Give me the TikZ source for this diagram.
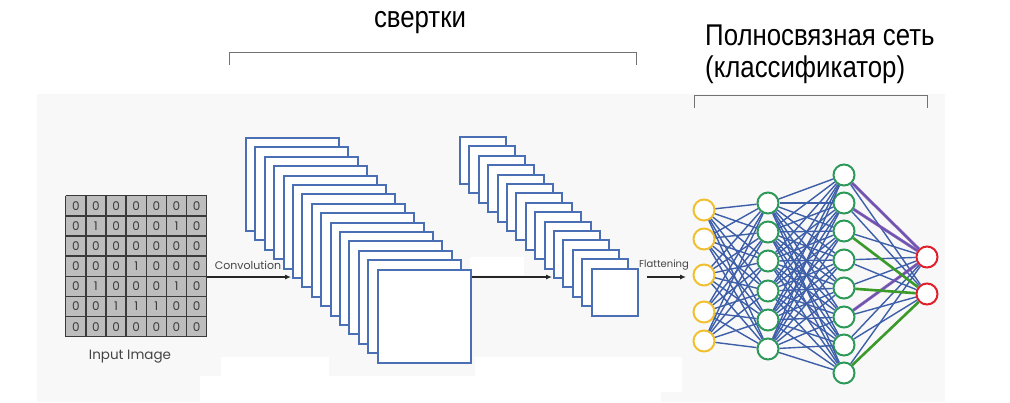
\documentclass[tikz,border=0pt]{standalone}
\usepackage{fontspec}
\setmainfont{Liberation Sans}
\newfontfamily\topfont[FakeStretch=0.86]{Liberation Sans}
\newfontfamily\smallfont{Poppins}
\usetikzlibrary{arrows.meta}
\definecolor{bgc}{HTML}{F8F8F8}
\definecolor{fmapc}{HTML}{4A6FB5}
\definecolor{edgec}{HTML}{3D5EA8}
\definecolor{yelc}{HTML}{F0C030}
\definecolor{grnc}{HTML}{2E9A5A}
\definecolor{redc}{HTML}{E0202A}
\definecolor{purc}{HTML}{7550B0}
\definecolor{gthick}{HTML}{3A9A2A}
\definecolor{cellc}{HTML}{BDBDBD}
\definecolor{gridc}{HTML}{3A3A3A}
\definecolor{labc}{HTML}{444444}
\tikzset{
  fmapbig/.style={draw=fmapc, line width=2pt, fill=white, minimum width=93pt, minimum height=93pt, inner sep=0pt, anchor=north west},
  fmapsmall/.style={draw=fmapc, line width=2pt, fill=white, minimum width=46pt, minimum height=47pt, inner sep=0pt, anchor=north west},
  neuron/.style={circle, fill=white, line width=2pt, minimum size=21pt, inner sep=0pt},
  edge/.style={draw=edgec, line width=1.4pt},
  purpedge/.style={draw=purc, line width=3pt, opacity=0.85},
  grnedge/.style={draw=gthick, line width=2.6pt},
  bracketline/.style={draw=black!55, line width=1pt},
  toptext/.style={font=\topfont\fontsize{30}{32}\selectfont, anchor=base, inner sep=0pt},
  smalllabel/.style={font=\smallfont\fontsize{11}{11}\selectfont, text=labc, inner sep=0pt},
  flowarrow/.style={draw=black!85, line width=1.1pt, -{Latex[length=6pt,width=5pt]}},
  digit/.style={font=\smallfont\fontsize{12}{12}\selectfont, text=gridc, inner sep=0pt}
}
\begin{document}
\begin{tikzpicture}[x=1pt,y=-1pt]
\useasboundingbox (0,0) rectangle (1010,402);
% background
\fill[bgc] (37,94) rectangle (945,402);
\fill[white] (200,402) -- (200,376) -- (221,376) -- (221,357) -- (329,357) -- (329,376) -- (475,376) -- (475,357) -- (682,357) -- (682,392) -- (661,392) -- (661,402) -- cycle;
\fill[white] (470,257) rectangle (524,275);
% top labels
\node[toptext] (tconv) at (420,27) {свертки};
\node[toptext, anchor=base west] (tfc1) at (705,45) {Полносвязная сеть};
\node[toptext, anchor=base west] (tfc2) at (705,77) {(классификатор)};
% brackets
\draw[bracketline] (229,65) -- (229,52) -- (636,52) -- (636,65);
\draw[bracketline] (694,108) -- (694,95) -- (927,95) -- (927,108);
% input grid
\node[fill=cellc, minimum width=141pt, minimum height=141pt, inner sep=0pt, anchor=north west] (grid) at (65.7,195.7) {};
\foreach \k in {0,...,7}{
  \draw[gridc, line width=1.5pt] (65.7+20.14*\k,195.7) -- (65.7+20.14*\k,336.7);
  \draw[gridc, line width=1.5pt] (65.7,195.7+20.14*\k) -- (206.7,195.7+20.14*\k);
}
\foreach \row [count=\i] in {{0,0,0,0,0,0,0},{0,1,0,0,0,1,0},{0,0,0,0,0,0,0},{0,0,0,1,0,0,0},{0,1,0,0,0,1,0},{0,0,1,1,1,0,0},{0,0,0,0,0,0,0}}{
  \foreach \v [count=\j] in \row {
    \node[digit] (d\i\j) at (65.7+20.14*\j-10.07,195.7+20.14*\i-10.07) {\v};
  }
}
\node[font=\smallfont\fontsize{13.5}{14}\selectfont, text=labc, inner sep=0pt] (inlab) at (130,357) {Input Image};
% big stack
\foreach \i in {0,...,14}{
  \node[fmapbig] (b\i) at (245+9.4*\i,137+9.4*\i) {};
}
% small stack
\foreach \i in {0,...,14}{
  \node[fmapsmall] (s\i) at (459+9.4*\i,136+9.4*\i) {};
}
% arrows
\coordinate (convend) at (291,277);
\coordinate (poolend) at (552,277);
\coordinate (flatstart) at (647,277);
\coordinate (flatend) at (686,277);
\draw[flowarrow] (grid.east |- convend) -- (convend);
\draw[flowarrow] (b14.east |- poolend) -- (poolend);
\draw[flowarrow] (flatstart) -- (flatend);
\node[smalllabel, anchor=south] (convlab) at (248,270) {Convolution};
\node[smalllabel, anchor=south, font=\smallfont\fontsize{10}{10}\selectfont] (flatlab) at (664,270) {Flattening};
% neurons
\foreach \y [count=\k] in {210,239,275,312,341}{
  \node[neuron, draw=yelc] (i\k) at (704,\y) {};
}
\foreach \y [count=\k] in {203,232,261,291,320,349}{
  \node[neuron, draw=grnc] (h\k) at (768,\y) {};
}
\foreach \y [count=\k] in {175,203,231,260,288,317,345,373}{
  \node[neuron, draw=grnc] (g\k) at (844,\y) {};
}
\node[neuron, draw=redc] (o1) at (927,257) {};
\node[neuron, draw=redc] (o2) at (927,294) {};
% edges
\foreach \a in {1,...,5}{\foreach \b in {1,...,6}{\draw[edge] (i\a) -- (h\b);}}
\foreach \a in {1,...,6}{\foreach \b in {1,...,8}{\draw[edge] (h\a) -- (g\b);}}
\foreach \a in {1,...,8}{\foreach \b in {1,2}{\draw[edge] (g\a) -- (o\b);}}
\draw[purpedge] (g1) -- (o1);
\draw[purpedge] (g2) -- (o1);
\draw[purpedge] (g6) -- (o1);
\draw[grnedge] (g3) -- (o2);
\draw[grnedge] (g5) -- (o2);
\draw[grnedge] (g8) -- (o2);
\end{tikzpicture}
\end{document}
